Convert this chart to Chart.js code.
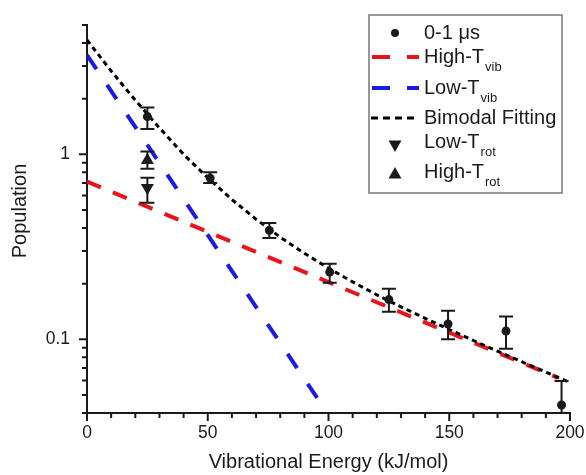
<!DOCTYPE html>
<html lang="en">
<head>
<meta charset="UTF-8">
<title>Population vs vibrational energy</title>
<style>
    html, body { margin: 0; padding: 0; background: #fff; }
    #wrap { position: relative; width: 586px; height: 475px; }
</style>
</head>
<body>
<div id="wrap"><canvas id="popChart" width="586" height="475"></canvas></div>

<script src="https://cdn.jsdelivr.net/npm/chart.js"></script>
<script>
// measured populations, 0-1 us window
const energies    = [25, 51, 75.5, 100.5, 125, 149.5, 173.5, 196.5];
const populations = [1.60, 0.744, 0.388, 0.231, 0.164, 0.121, 0.111, 0.0442];
const popErrHigh  = [1.79, 0.80, 0.426, 0.256, 0.188, 0.143, 0.133, 0.0596];
const popErrLow   = [1.37, 0.70, 0.353, 0.202, 0.141, 0.100, 0.089, 0.03];

// rotational temperature limits at 25 kJ/mol
const rotEnergy    = [25];
const lowTrot      = [0.66];
const lowTrotHigh  = [0.747];
const lowTrotLow   = [0.548];
const highTrot     = [0.93];
const highTrotHigh = [1.035];
const highTrotLow  = [0.835];

// fitted distributions
const highTvibX = [0, 195];
const highTvibY = [0.713, 0.062];
const lowTvibX  = [0, 96.5];
const lowTvibY  = [3.44, 0.0457];
const bimodalX  = [0, 10, 20, 30, 40, 50, 60, 70, 80, 90, 100, 110, 120, 130, 140, 150, 160, 170, 180, 190, 200];
const bimodalY  = [4.15, 2.82, 1.96, 1.39, 1.00, 0.747, 0.570, 0.446, 0.357, 0.292, 0.2425, 0.2045, 0.174, 0.150, 0.130, 0.113, 0.0986, 0.0863, 0.0757, 0.0665, 0.0585];

// axis ticks
const xMajorTicks = [0, 50, 100, 150, 200];
const xMinorTicks = [10, 20, 30, 40, 60, 70, 80, 90, 110, 120, 130, 140, 160, 170, 180, 190];
const yMajorTicks = [0.1, 1];
const yTickLabels = ['0.1', '1'];
const yMinorTicks = [0.04, 0.05, 0.06, 0.07, 0.08, 0.09, 0.2, 0.3, 0.4, 0.5, 0.6, 0.7, 0.8, 0.9, 2, 3, 4, 5];

// legend rows: main text + subscript
const legendText = ['0-1 \u03bcs', 'High-T', 'Low-T', 'Bimodal Fitting', 'Low-T', 'High-T'];
const legendSub  = ['', 'vib', 'vib', '', 'rot', 'rot'];

const FONT = "'Liberation Sans', Arial, sans-serif";
const INK = '#1a1a1a';

const pts = (xs, ys) => xs.map((x, i) => ({ x: x, y: ys[i] }));

// vertical error bars with caps
const errorBarPlugin = {
    id: 'errorBars',
    afterDatasetsDraw(chart) {
        const ctx = chart.ctx;
        const xs = chart.scales.x, ys = chart.scales.y;
        const area = chart.chartArea;
        ctx.save();
        ctx.beginPath();
        ctx.rect(area.left, area.top, area.right - area.left, area.bottom - area.top);
        ctx.clip();
        ctx.strokeStyle = INK;
        ctx.lineWidth = 2;
        chart.data.datasets.forEach(ds => {
            if (!ds.errorBars) return;
            ds.data.forEach((p, i) => {
                const x = xs.getPixelForValue(p.x);
                const yHi = ys.getPixelForValue(ds.errorBars.high[i]);
                const yLo = ys.getPixelForValue(ds.errorBars.low[i]);
                ctx.beginPath();
                ctx.moveTo(x, yHi); ctx.lineTo(x, yLo);
                ctx.moveTo(x - 7, yHi); ctx.lineTo(x + 7, yHi);
                ctx.moveTo(x - 7, yLo); ctx.lineTo(x + 7, yLo);
                ctx.stroke();
            });
        });
        ctx.restore();
    }
};

// tick marks (long majors, short minors), axis titles and the boxed legend
const decorPlugin = {
    id: 'decor',
    afterDraw(chart) {
        const ctx = chart.ctx;
        const xs = chart.scales.x, ys = chart.scales.y;
        const area = chart.chartArea;
        ctx.save();
        ctx.strokeStyle = INK;
        ctx.lineWidth = 2;
        ctx.beginPath();
        xMajorTicks.forEach(v => { const x = xs.getPixelForValue(v); ctx.moveTo(x, area.bottom); ctx.lineTo(x, area.bottom + 8); });
        xMinorTicks.forEach(v => { const x = xs.getPixelForValue(v); ctx.moveTo(x, area.bottom); ctx.lineTo(x, area.bottom + 5); });
        yMajorTicks.forEach(v => { const y = ys.getPixelForValue(v); ctx.moveTo(area.left, y); ctx.lineTo(area.left - 8, y); });
        yMinorTicks.forEach(v => { const y = ys.getPixelForValue(v); ctx.moveTo(area.left, y); ctx.lineTo(area.left - 5, y); });
        ctx.stroke();

        // axis titles
        ctx.fillStyle = INK;
        ctx.font = '20px ' + FONT;
        ctx.textAlign = 'center';
        ctx.textBaseline = 'middle';
        ctx.fillText('Vibrational Energy (kJ/mol)', (area.left + area.right) / 2, 462);
        ctx.save();
        ctx.translate(20, 211);
        ctx.rotate(-Math.PI / 2);
        ctx.fillText('Population', 0, 0);
        ctx.restore();

        // legend box
        const bx = 369, by = 15, bw = 193, bh = 178;
        ctx.fillStyle = '#fff';
        ctx.fillRect(bx, by, bw, bh);
        ctx.strokeStyle = '#777';
        ctx.lineWidth = 1.5;
        ctx.strokeRect(bx, by, bw, bh);

        const ds = chart.data.datasets;
        const rows = [
            { ds: ds[0], text: 33,  mark: 33 },
            { ds: ds[4], text: 57,  mark: 57 },
            { ds: ds[5], text: 88,  mark: 88 },
            { ds: ds[3], text: 118, mark: 118 },
            { ds: ds[1], text: 142, mark: 146 },
            { ds: ds[2], text: 172, mark: 173 }
        ];
        rows.forEach((r, i) => {
            const d = r.ds;
            ctx.save();
            if (d.showLine) {
                ctx.strokeStyle = d.borderColor;
                ctx.lineWidth = d.borderWidth;
                ctx.beginPath();
                if (d.borderDash[0] > 8) {
                    ctx.moveTo(372, r.mark); ctx.lineTo(390, r.mark);
                    ctx.moveTo(407, r.mark); ctx.lineTo(419, r.mark);
                } else {
                    ctx.setLineDash([7, 5]);
                    ctx.moveTo(371, r.mark); ctx.lineTo(418, r.mark);
                }
                ctx.stroke();
            } else {
                ctx.fillStyle = INK;
                ctx.beginPath();
                if (d.pointStyle === 'circle') {
                    ctx.arc(395, r.mark, 4, 0, Math.PI * 2);
                } else if (d.rotation === 180) {
                    ctx.moveTo(388.5, r.mark - 5.5); ctx.lineTo(401.5, r.mark - 5.5); ctx.lineTo(395, r.mark + 6);
                } else {
                    ctx.moveTo(388.5, r.mark + 5.5); ctx.lineTo(401.5, r.mark + 5.5); ctx.lineTo(395, r.mark - 6);
                }
                ctx.closePath();
                ctx.fill();
            }
            ctx.restore();

            ctx.fillStyle = INK;
            ctx.textAlign = 'left';
            ctx.textBaseline = 'middle';
            ctx.font = '20px ' + FONT;
            ctx.fillText(legendText[i], 424, r.text);
            if (legendSub[i]) {
                const w = ctx.measureText(legendText[i]).width;
                ctx.font = '13px ' + FONT;
                ctx.fillText(legendSub[i], 424 + w + 1, r.text + 10);
            }
        });
        ctx.restore();
    }
};

const ctx = document.getElementById('popChart').getContext('2d');
const popChart = new Chart(ctx, {
    type: 'scatter',
    data: {
        datasets: [
            {
                label: '0-1 \u03bcs',
                data: pts(energies, populations),
                pointStyle: 'circle',
                pointRadius: 4.5,
                backgroundColor: INK,
                borderColor: INK,
                borderWidth: 0,
                errorBars: { high: popErrHigh, low: popErrLow }
            },
            {
                label: 'Low-T rot',
                data: pts(rotEnergy, lowTrot),
                pointStyle: 'triangle',
                rotation: 180,
                pointRadius: 7.5,
                backgroundColor: INK,
                borderColor: INK,
                borderWidth: 0,
                errorBars: { high: lowTrotHigh, low: lowTrotLow }
            },
            {
                label: 'High-T rot',
                data: pts(rotEnergy, highTrot),
                pointStyle: 'triangle',
                pointRadius: 7.5,
                backgroundColor: INK,
                borderColor: INK,
                borderWidth: 0,
                errorBars: { high: highTrotHigh, low: highTrotLow }
            },
            {
                label: 'Bimodal Fitting',
                data: pts(bimodalX, bimodalY),
                showLine: true,
                borderColor: '#000',
                borderWidth: 3,
                borderDash: [5, 4],
                pointRadius: 0,
                tension: 0
            },
            {
                label: 'High-T vib',
                data: pts(highTvibX, highTvibY),
                showLine: true,
                borderColor: '#e8141c',
                borderWidth: 4,
                borderDash: [15, 13],
                pointRadius: 0
            },
            {
                label: 'Low-T vib',
                data: pts(lowTvibX, lowTvibY),
                showLine: true,
                borderColor: '#1a1ae6',
                borderWidth: 4,
                borderDash: [17, 19],
                pointRadius: 0
            }
        ]
    },
    options: {
        responsive: false,
        animation: false,
        layout: { padding: { top: 25, right: 16, left: 0, bottom: 0 } },
        plugins: {
            legend: { display: false },
            tooltip: { enabled: false }
        },
        scales: {
            x: {
                type: 'linear',
                min: 0,
                max: 200,
                afterFit: s => { s.height = 62; s.paddingLeft = 0; s.paddingRight = 0; },
                afterBuildTicks: s => { s.ticks = xMajorTicks.map(v => ({ value: v })); },
                grid: { drawOnChartArea: false, drawTicks: false },
                border: { color: INK, width: 2 },
                ticks: {
                    padding: 10,
                    maxRotation: 0,
                    autoSkip: false,
                    color: INK,
                    font: { family: FONT, size: 17.5 },
                    callback: v => String(v)
                }
            },
            y: {
                type: 'logarithmic',
                min: 0.04,
                max: 5,
                afterFit: s => { s.width = 87; s.paddingTop = 0; s.paddingBottom = 0; },
                afterBuildTicks: s => { s.ticks = yMajorTicks.map(v => ({ value: v })); },
                grid: { drawOnChartArea: false, drawTicks: false },
                border: { color: INK, width: 2 },
                ticks: {
                    padding: 17,
                    autoSkip: false,
                    color: INK,
                    font: { family: FONT, size: 17.5 },
                    callback: v => yTickLabels[yMajorTicks.indexOf(v)]
                }
            }
        }
    },
    plugins: [errorBarPlugin, decorPlugin]
});
</script>
</body>
</html>
